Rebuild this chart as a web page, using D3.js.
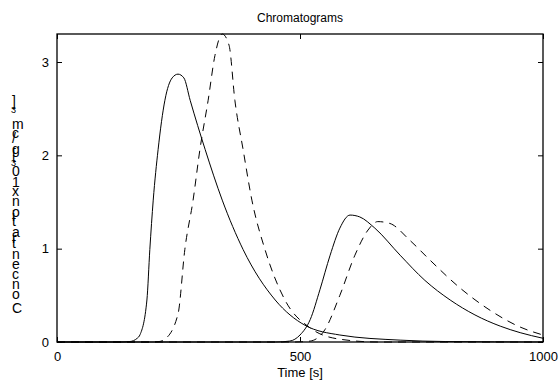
<!DOCTYPE html>
<html><head><meta charset="utf-8">
<script src="https://cdn.jsdelivr.net/npm/d3@7"></script>
<style>body{margin:0;background:#fff}svg{display:block}text{font-family:Arial,"Liberation Sans",sans-serif;fill:#000}</style>
</head><body><svg id="c" width="560" height="387"></svg>
<script>
const title = "Chromatograms";
const xLabel = "Time [s]";
const yLabelChars = ["C","o","n","c","e","n","t","r","a","t","i","o","n"," ","x"," ","1","0","^3"," ","[","g","/","c","m","^3","]"];
const xTicks = [0, 500, 1000];
const yTicks = [0, 1, 2, 3];

const solid1T = [0,130,150,165,171,185,191,198,208,222,237,249,261,274,305,340,383,449,510,582,706,800,1000];
const solid1V = [0,0,0.005,0.04,0.08,0.45,0.99,1.52,2.06,2.59,2.83,2.87,2.83,2.59,2.06,1.52,0.99,0.45,0.18,0.075,0.02,0.005,0];
const dash1T = [0,190,210,222,249,263,280,294,311,325,340,354,366,383,401,428,469,521,582,660,1000];
const dash1V = [0,0,0.005,0.03,0.3,0.99,1.52,2.06,2.59,3.07,3.3,3.18,2.59,2.06,1.52,0.99,0.45,0.15,0.03,0,0];
const solid2T = [0,450,479,500,521,541,562,582,603,623,654,706,757,809,860,912,953,1000];
const solid2V = [0,0,0.01,0.075,0.24,0.56,0.93,1.22,1.36,1.34,1.22,0.93,0.66,0.45,0.29,0.17,0.1,0.04];
const dash2T = [0,490,521,551,582,613,640,660,685,726,767,829,891,953,1000];
const dash2V = [0,0,0.01,0.13,0.5,0.93,1.2,1.29,1.27,1.09,0.88,0.58,0.34,0.16,0.075];

const series = [
  {t: solid1T, v: solid1V, dash: null},
  {t: dash1T, v: dash1V, dash: "8,6"},
  {t: solid2T, v: solid2V, dash: null},
  {t: dash2T, v: dash2V, dash: "8,6"}
];

const svg = d3.select("#c");
const L = 57, R = 543, T = 34, B = 342;
const x = d3.scaleLinear().domain([0, 1000]).range([L, R]);
const y = d3.scaleLinear().domain([0, 3.3]).range([B, T]);

const line = d3.line().x(d => x(d[0])).y(d => y(Math.max(0, d[1]))).curve(d3.curveMonotoneX);
svg.append("g").selectAll("path").data(series).join("path")
  .attr("d", s => line(s.t.map((t, i) => [t, s.v[i]])))
  .attr("fill", "none").attr("stroke", "#000").attr("stroke-width", 1)
  .attr("stroke-dasharray", s => s.dash);

// axes (ticks inside, box)
const tl = 5;
svg.append("g").attr("transform", `translate(0,${B})`)
  .call(d3.axisBottom(x).tickValues(xTicks).tickSize(-tl).tickPadding(10).tickFormat(d3.format("d")))
  .call(g => g.select(".domain").remove());
svg.append("g").attr("transform", `translate(0,${T})`)
  .call(d3.axisTop(x).tickValues(xTicks).tickSize(-tl).tickFormat(""))
  .call(g => g.select(".domain").remove());
svg.append("g").attr("transform", `translate(${L},0)`)
  .call(d3.axisLeft(y).tickValues(yTicks).tickSize(-tl).tickPadding(8).tickFormat(d3.format("d")))
  .call(g => g.select(".domain").remove());
svg.append("g").attr("transform", `translate(${R},0)`)
  .call(d3.axisRight(y).tickValues(yTicks).tickSize(-tl).tickFormat(""))
  .call(g => g.select(".domain").remove());
svg.selectAll(".tick text").attr("font-size", 13).attr("font-family", "Arial, 'Liberation Sans', sans-serif").attr("fill", "#000");
svg.selectAll(".tick line").attr("stroke", "#000");
svg.append("rect").attr("x", L).attr("y", T).attr("width", R - L).attr("height", B - T)
  .attr("fill", "none").attr("stroke", "#000").attr("stroke-width", 1.3);

svg.append("text").attr("x", 300).attr("y", 22).attr("text-anchor", "middle").attr("font-size", 12).text(title);
svg.append("text").attr("x", 300).attr("y", 377).attr("text-anchor", "middle").attr("font-size", 13).text(xLabel);

// y label: upright glyphs stacked bottom-to-top (as in the original rendering)
const yl = svg.append("g");
const fs = 14;
const items = yLabelChars.map(ch => {
  const sup = ch.startsWith("^");
  const c = sup ? ch.slice(1) : ch;
  const t = yl.append("text").attr("font-size", sup ? fs * 0.65 : fs).text(c);
  return {t, sup, w: t.node().getComputedTextLength()};
});
const total = d3.sum(items, d => d.w);
const k = 212 / total;
let pos = 313;
items.forEach(d => {
  d.t.attr("x", d.sup ? 11 : 12).attr("y", pos);
  pos -= d.w * k;
});
</script></body></html>
